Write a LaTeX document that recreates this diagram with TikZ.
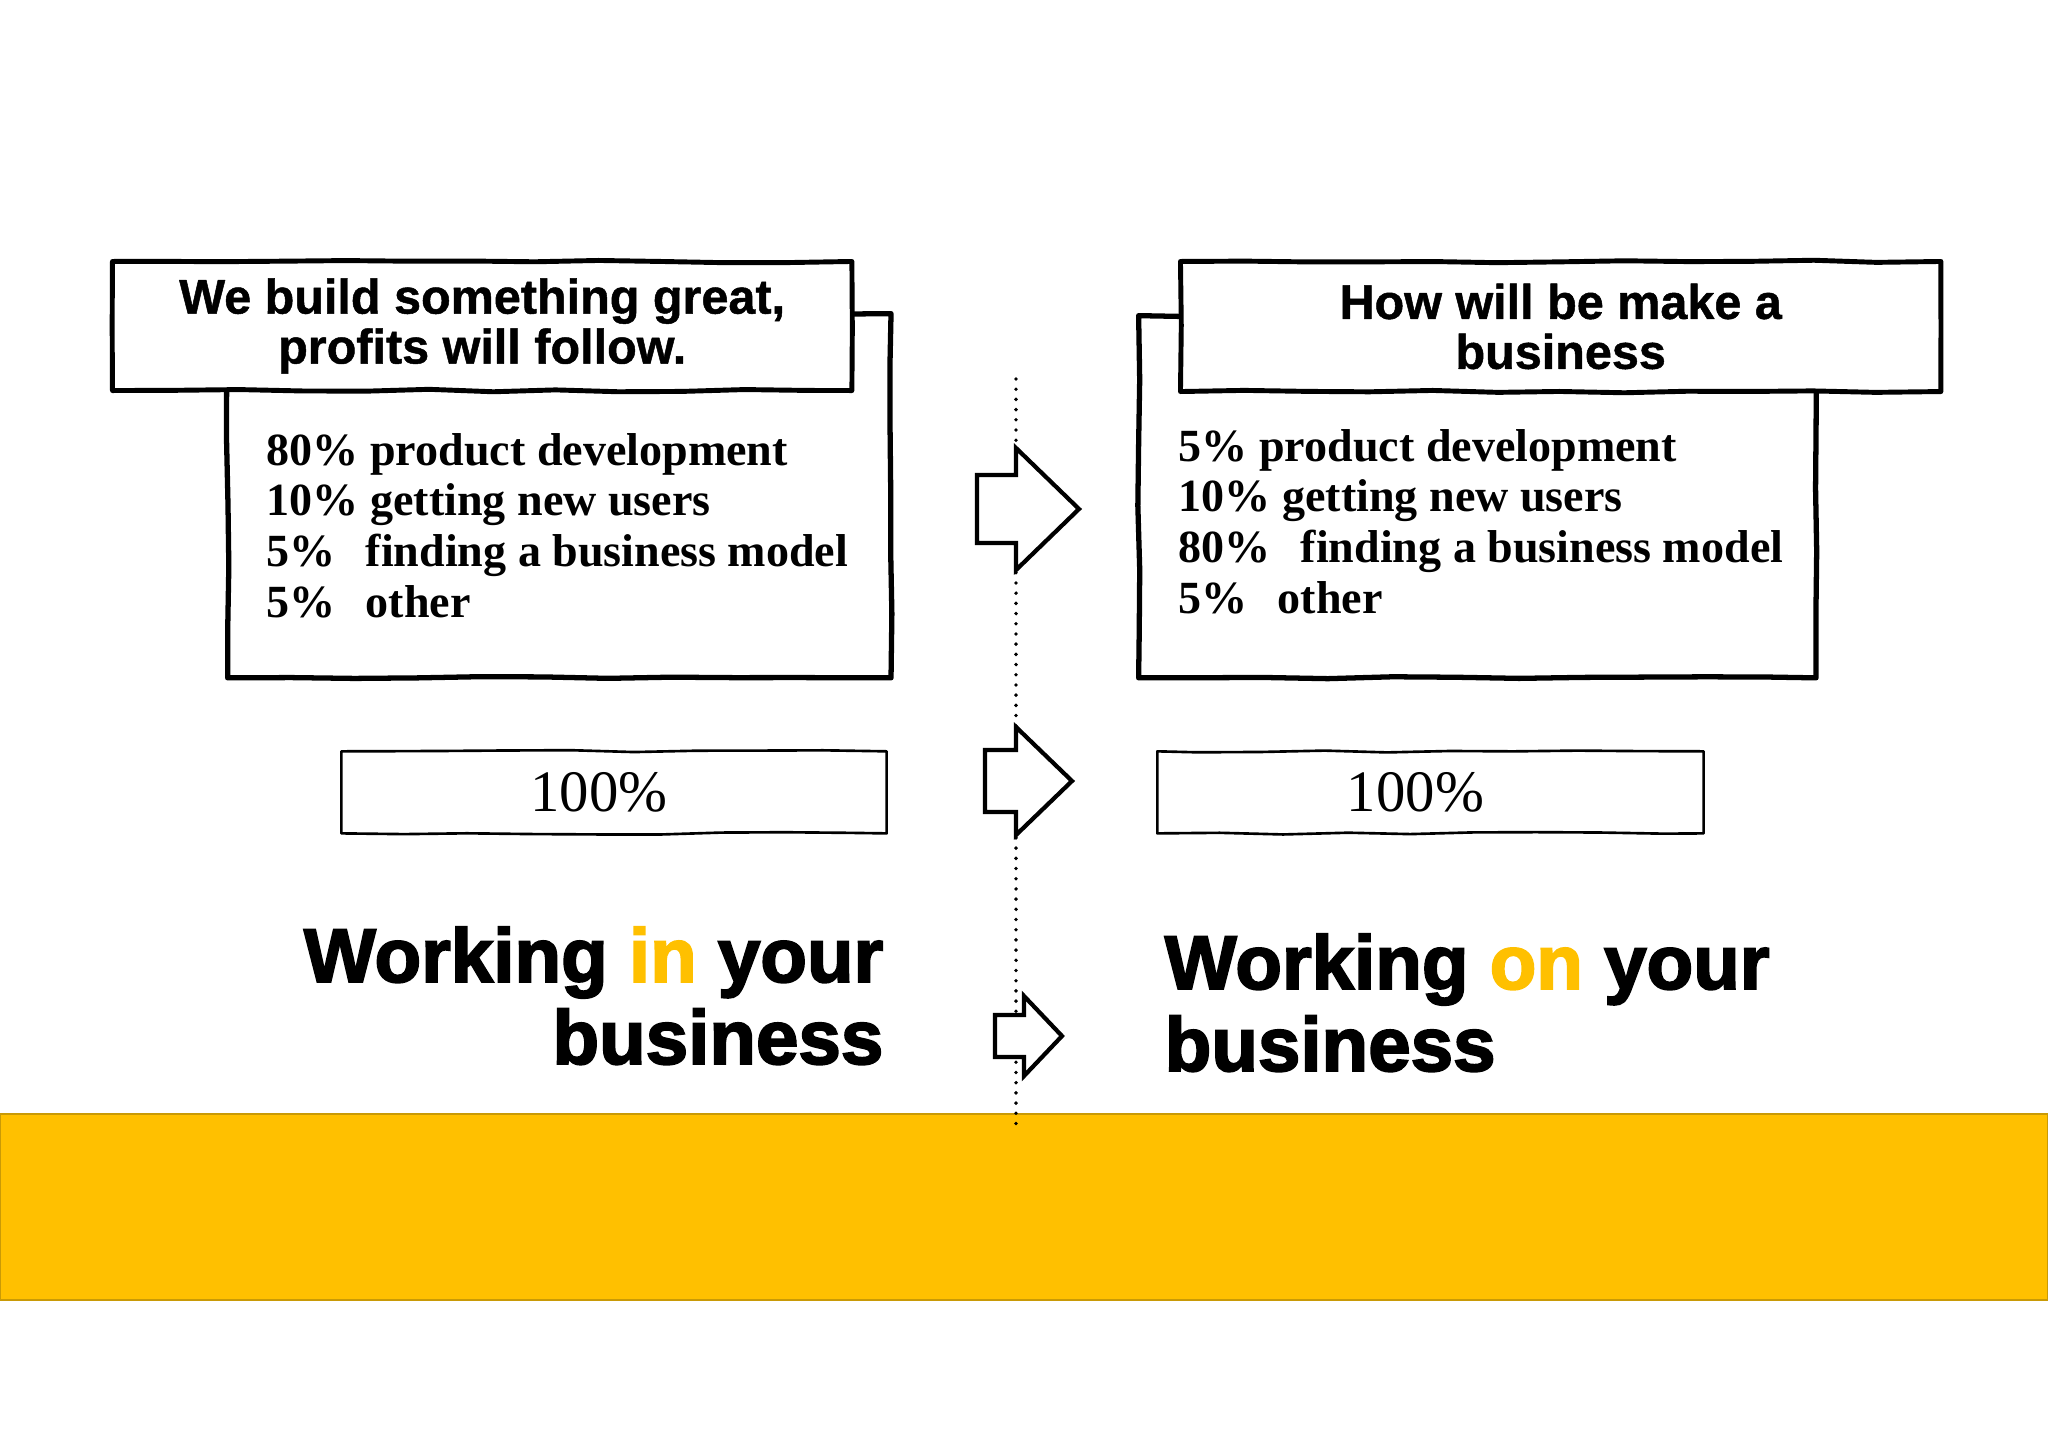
\documentclass[tikz,border=0pt]{standalone}
\usepackage{fontspec}
\setmainfont{Liberation Serif}
\newfontfamily\titlefont[BoldFeatures={FakeBold=1}]{Liberation Sans}
\newfontfamily\headfont[BoldFeatures={FakeBold=2.5}]{Liberation Sans}
\usetikzlibrary{positioning,decorations.pathmorphing}
\definecolor{bandyellow}{HTML}{FFC000}
\definecolor{bandedge}{HTML}{C99A06}
\newcommand{\gapsp}{\hspace{8.5pt}}
\tikzstyle{sketch} = [decorate,decoration={random steps,segment length=18pt,amplitude=0.35pt},line join=round]
\tikzstyle{bodybox} = [draw=black,fill=white,line width=1.5pt,rectangle,sketch,
  inner sep=0pt,anchor=north west]
\tikzstyle{titlebox} = [draw=black,fill=white,line width=1.4pt,rectangle,sketch,
  inner sep=0pt,anchor=north west,align=center,
  font=\titlefont\bfseries\fontsize{13.8}{14.2}\selectfont]
\tikzstyle{pctbox} = [draw=black,fill=white,line width=0.75pt,rectangle,sketch,
  inner sep=0pt,anchor=north west]
\tikzstyle{pcttext} = [font=\fontsize{16.7}{18}\selectfont,inner sep=0pt]
\tikzstyle{listtext} = [font=\bfseries\fontsize{13.1}{14.5}\selectfont,inner sep=0pt,anchor=base west]
\tikzstyle{headline} = [font=\headfont\bfseries\fontsize{21.7}{23.3}\selectfont,inner sep=0pt]
\tikzstyle{shiftarrow} = [draw=black,fill=white,line width=1.2pt,line join=miter]
\tikzstyle{divider} = [line width=1.1pt,line cap=round,dash pattern=on 0pt off 2.9pt]

\begin{document}
\begin{tikzpicture}[x=0.01cm,y=-0.01cm]
    \pgfmathsetseed{7}
    \useasboundingbox (0,0) rectangle (2048,1448);
    % yellow band at the bottom
    \fill[bandyellow,draw=bandedge,line width=0.6pt] (0,1114) rectangle (2048,1300);
    % dotted divider and the three arrows
    \coordinate (divtop) at (1016,379);
    \coordinate (divbot) at (1016,1126);
    \draw[divider] (divtop) -- (divbot);
    \foreach \l/\b/\t/\c/\s/\h in {977/1016/1079/509/34/61,
        985/1016/1072/781/31/54, 995/1024/1062/1036/21/40}
      \draw[shiftarrow] (\l,\c-\s) -- (\b,\c-\s) -- (\b,\c-\h) -- (\t,\c)
        -- (\b,\c+\h) -- (\b,\c+\s) -- (\l,\c+\s) -- cycle;

    % left side
    \node [bodybox,minimum width=6.63cm,minimum height=3.64cm] (leftbody) at (225,311) {};
    \node [titlebox,minimum width=7.39cm,minimum height=1.29cm] (lefttitle) at (110,259)
      {We build something great,\\profits will follow.};
    \node [listtext] (leftlist) at (266,465) {%
      \begin{tabular}[t]{@{}l@{}}
        80\% product development\\
        10\% getting new users\\
        5\%\gapsp finding a business model\\
        5\%\gapsp other
      \end{tabular}};
    \node [pctbox,minimum width=5.45cm,minimum height=0.82cm] (leftpct) at (340,750) {};
    \node [pcttext] (leftpcttext) at ([xshift=-0.15cm]leftpct.center) {100\%};
    \node [headline,anchor=base east] (leftslogan) at (884,982) {%
      \begin{tabular}[t]{@{}r@{}}
        Working {\color{bandyellow}in} your\\
        business
      \end{tabular}};

    % right side
    \node [bodybox,minimum width=6.77cm,minimum height=3.62cm] (rightbody) at (1136,313) {};
    \node [titlebox,minimum width=7.60cm,minimum height=1.30cm] (righttitle) at (1178,259)
      {How will be make a\\business};
    \node [listtext] (rightlist) at (1178,461) {%
      \begin{tabular}[t]{@{}l@{}}
        5\% product development\\
        10\% getting new users\\
        80\%\gapsp finding a business model\\
        5\%\gapsp other
      \end{tabular}};
    \node [pctbox,minimum width=5.46cm,minimum height=0.82cm] (rightpct) at (1156,750) {};
    \node [pcttext] (rightpcttext) at ([xshift=-0.15cm]rightpct.center) {100\%};
    \node [headline,anchor=base west] (rightslogan) at (1164,989) {%
      \begin{tabular}[t]{@{}l@{}}
        Working {\color{bandyellow}on} your\\
        business
      \end{tabular}};
  \end{tikzpicture}
\end{document}
